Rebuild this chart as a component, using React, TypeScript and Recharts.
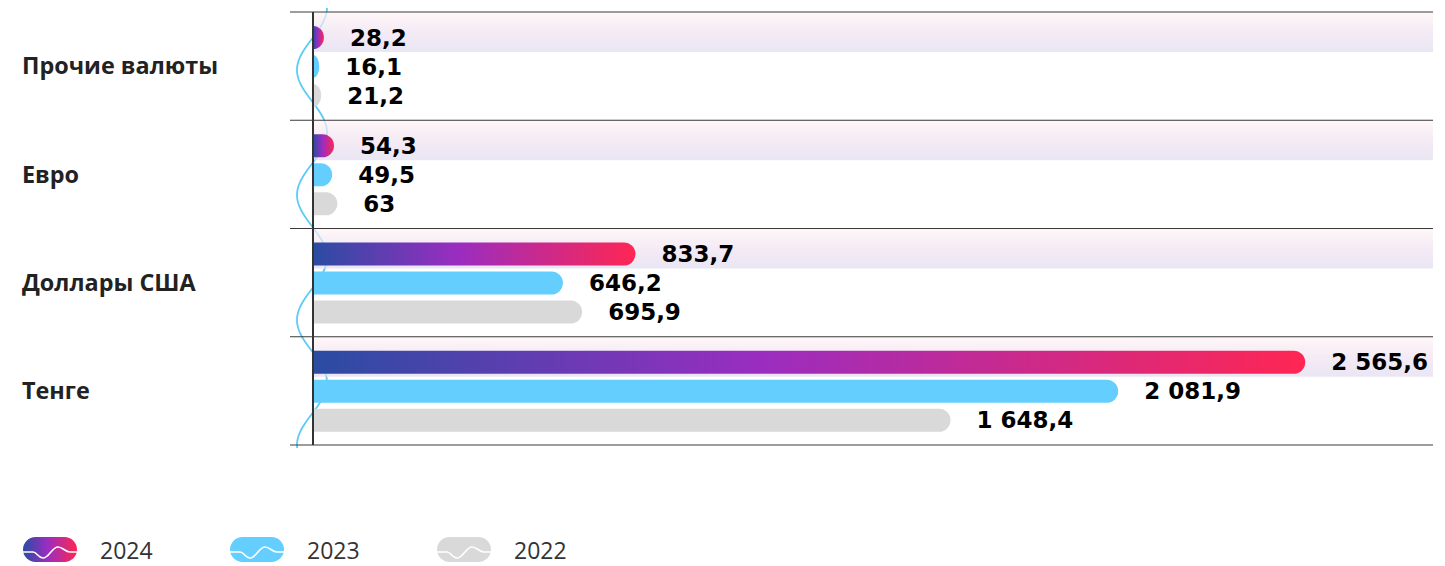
import React from "react";
import { BarChart, Bar, XAxis, YAxis, LabelList } from "recharts";

const categories = ["Прочие валюты", "Евро", "Доллары США", "Тенге"];
const values2024 = [28.2, 54.3, 833.7, 2565.6];
const values2023 = [16.1, 49.5, 646.2, 2081.9];
const values2022 = [21.2, 63, 695.9, 1648.4];
const years = ["2024", "2023", "2022"];

const data = categories.map((name, i) => ({
  name,
  y2024: values2024[i],
  y2023: values2023[i],
  y2022: values2022[i],
}));

const W = 1437;
const H = 445;
const M = { top: 4, right: 12, bottom: 8, left: 0 };
const AXIS_W = 305;
const BAND = (H - M.top - M.bottom) / categories.length;

const C2023 = "#64cfff";
const C2022 = "#d9d9d9";

const fmt = (v: any) => {
  const n = Number(v);
  const [i, d] = n.toString().split(".");
  const ii = i.replace(/\B(?=(\d{3})+(?!\d))/g, " ");
  return d ? ii + "," + d : ii;
};

const BarShape = (p: any) => {
  const { x, y, width, height, fill } = p;
  if (!width || width <= 0) return null;
  const ry = height / 2;
  const rx = Math.min(width, ry);
  const d = `M${x},${y} H${x + width - rx} A${rx},${ry} 0 0 1 ${x + width - rx},${y + height} H${x} Z`;
  return <path d={d} fill={fill} />;
};

const Highlight = (p: any) => {
  const { x, y, width, height, index } = p;
  return (
    <rect
      key={`hl-${index}`}
      x={x}
      y={y - 14}
      width={width}
      height={height + 17}
      fill="url(#hlGrad)"
    />
  );
};

const CatTick = (props: any) => {
  const { y, payload, index } = props;
  const half = BAND / 2;
  return (
    <g>
      <line x1={282} x2={W - M.right} y1={y - half} y2={y - half} stroke="#3a3a3a" strokeWidth={1} />
      {index === categories.length - 1 && (
        <line x1={282} x2={W - M.right} y1={y + half} y2={y + half} stroke="#3a3a3a" strokeWidth={1} />
      )}
      <text
        x={14}
        y={y}
        dy="0.35em"
        fontFamily="'Open Sans', 'Noto Sans', sans-serif"
        fontWeight={700}
        fontSize={23.4}
        fill="#222"
      >
        {payload.value}
      </text>
    </g>
  );
};

const wavePath = (() => {
  const pts: string[] = [];
  for (let yy = -10; yy <= 440; yy += 2) {
    const xx = 304 - 15 * Math.cos((2 * Math.PI * (yy - 62)) / 125);
    pts.push(`${yy === -10 ? "M" : "L"}${xx.toFixed(2)},${yy}`);
  }
  return pts.join(" ");
})();

const labelProps = {
  position: "right" as const,
  offset: 26,
  formatter: fmt,
  fill: "#000",
  fontSize: 23,
  fontWeight: 700,
  fontFamily: "'DejaVu Sans', sans-serif",
};

const LegendIcon = ({ fill, id }: { fill: string; id?: string }) => (
  <svg width={54} height={25} style={{ display: "block" }}>
    {id && (
      <defs>
        <linearGradient id={id} x1="0" y1="0" x2="1" y2="0">
          <stop offset="0%" stopColor="#2a4ca2" />
          <stop offset="45%" stopColor="#9a2dc0" />
          <stop offset="100%" stopColor="#ff2653" />
        </linearGradient>
      </defs>
    )}
    <rect x={0} y={0} width={54} height={25} rx={12.5} ry={12.5} fill={id ? `url(#${id})` : fill} />
    <path
      d="M0,15 H10 C14,15 15,21 20,21 C26,21 29,10 35,10 C40,10 42,15 47,15 H54"
      fill="none"
      stroke="#fff"
      strokeWidth={1.6}
    />
  </svg>
);

export default function App() {
  const legendFills = ["grad", C2023, C2022];
  return (
    <div style={{ position: "relative", width: W, height: 558 }}>
      <style>{"html{overflow:hidden}"}</style>
      <svg
        width={W}
        height={450}
        style={{ position: "absolute", left: 0, top: 0, overflow: "visible" }}
      >
        <path d={wavePath} fill="none" stroke="#5ccbf8" strokeWidth={1.8} />
      </svg>
      <div style={{ position: "absolute", left: 0, top: 0 }}>
        <BarChart
          width={W}
          height={H}
          data={data}
          layout="vertical"
          margin={M}
          barSize={23}
          barGap={6}
        >
          <defs>
            <linearGradient id="g2024" x1="0" y1="0" x2="1" y2="0">
              <stop offset="0%" stopColor="#2a4ca2" />
              <stop offset="45%" stopColor="#9a2dc0" />
              <stop offset="100%" stopColor="#ff2653" />
            </linearGradient>
            <linearGradient id="hlGrad" x1="0" y1="0" x2="0" y2="1">
              <stop offset="0%" stopColor="#fff3f5" stopOpacity={0.7} />
              <stop offset="50%" stopColor="#efe2f1" stopOpacity={0.7} />
              <stop offset="100%" stopColor="#e1dbef" stopOpacity={0.7} />
            </linearGradient>
          </defs>
          <XAxis type="number" domain={[0, 2896]} hide />
          <YAxis
            type="category"
            dataKey="name"
            width={AXIS_W}
            axisLine={{ stroke: "#333", strokeWidth: 2 }}
            tickLine={false}
            tick={<CatTick />}
            interval={0}
          />
          <Bar
            dataKey="y2024"
            fill="url(#g2024)"
            shape={<BarShape />}
            background={<Highlight />}
            isAnimationActive={false}
          >
            <LabelList dataKey="y2024" {...labelProps} />
          </Bar>
          <Bar dataKey="y2023" fill={C2023} shape={<BarShape />} isAnimationActive={false}>
            <LabelList dataKey="y2023" {...labelProps} />
          </Bar>
          <Bar dataKey="y2022" fill={C2022} shape={<BarShape />} isAnimationActive={false}>
            <LabelList dataKey="y2022" {...labelProps} />
          </Bar>
        </BarChart>
      </div>
      {years.map((yr, i) => (
        <div
          key={yr}
          style={{
            position: "absolute",
            left: 15 + i * 207,
            top: 529,
            display: "flex",
            alignItems: "center",
            height: 25,
          }}
        >
          <LegendIcon fill={legendFills[i]} id={i === 0 ? "lgGrad" : undefined} />
          <span
            style={{
              marginLeft: 23,
              fontFamily: "'Open Sans', 'Noto Sans', sans-serif",
              fontSize: 23,
              color: "#333",
              lineHeight: "25px",
              position: "relative",
              top: 1,
            }}
          >
            {yr}
          </span>
        </div>
      ))}
    </div>
  );
}
